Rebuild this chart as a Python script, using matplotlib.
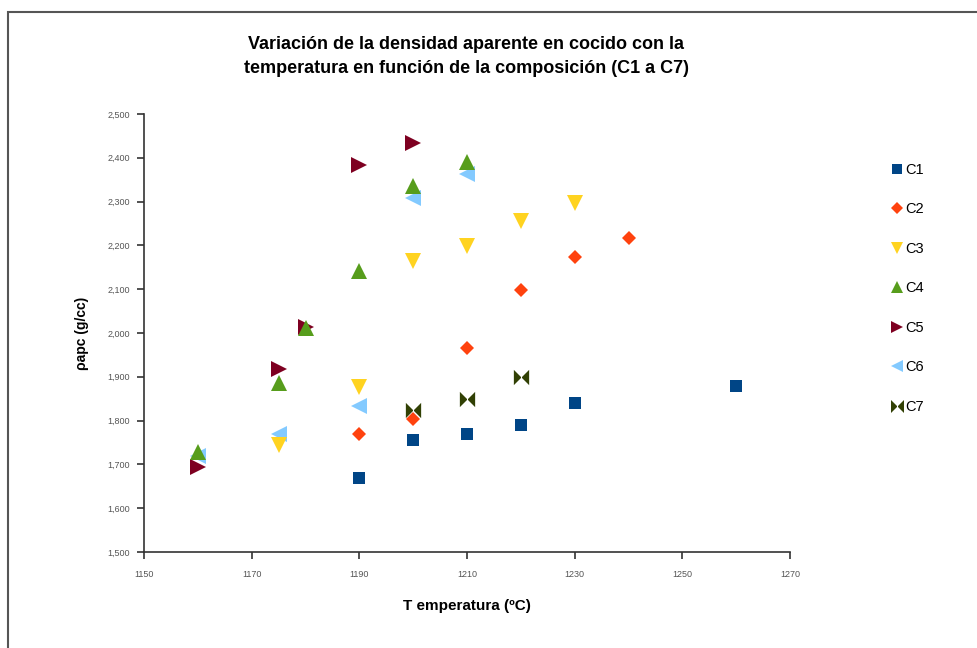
import matplotlib.pyplot as plt
from matplotlib.path import Path
from matplotlib.patches import Rectangle
from matplotlib.ticker import FuncFormatter

# temperatura de cocción (ºC) y densidad aparente en cocido (g/cc) por composición
temp_c1 = [1190, 1200, 1210, 1220, 1230, 1260]
dens_c1 = [1669, 1756, 1769, 1790, 1840, 1879]

temp_c2 = [1190, 1200, 1210, 1220, 1230, 1240]
dens_c2 = [1769, 1804, 1966, 2098, 2173, 2217]

temp_c3 = [1175, 1190, 1200, 1210, 1220, 1230]
dens_c3 = [1744, 1877, 2164, 2199, 2256, 2297]

temp_c4 = [1160, 1175, 1180, 1190, 1200, 1210]
dens_c4 = [1728, 1886, 2011, 2142, 2336, 2390]

temp_c5 = [1160, 1175, 1180, 1190, 1200]
dens_c5 = [1694, 1918, 2014, 2384, 2434]

temp_c6 = [1160, 1175, 1190, 1200, 1210]
dens_c6 = [1719, 1769, 1833, 2308, 2363]

temp_c7 = [1200, 1210, 1220]
dens_c7 = [1824, 1849, 1900]

# marcador "pajarita" para C7
bowtie = Path([(-1, -1), (0, 0), (-1, 1), (-1, -1), (1, -1), (0, 0), (1, 1), (1, -1)],
              [Path.MOVETO, Path.LINETO, Path.LINETO, Path.CLOSEPOLY,
               Path.MOVETO, Path.LINETO, Path.LINETO, Path.CLOSEPOLY])

series = [
    ('C1', temp_c1, dens_c1, 's', '#004586', 8.5),
    ('C2', temp_c2, dens_c2, 'D', '#ff420e', 7.5),
    ('C3', temp_c3, dens_c3, 'v', '#ffd320', 11),
    ('C4', temp_c4, dens_c4, '^', '#579d1c', 11),
    ('C5', temp_c5, dens_c5, '>', '#7e0021', 11),
    ('C6', temp_c6, dens_c6, '<', '#83caff', 11),
    ('C7', temp_c7, dens_c7, bowtie, '#314004', 11),
]

plt.rcParams['font.family'] = ['Liberation Sans', 'DejaVu Sans']

fig = plt.figure(figsize=(9.77, 6.48), dpi=100)
ax = fig.add_axes([0.1474, 0.1481, 0.6612, 0.6760])

# la primera serie queda encima
for i, (name, xs, ys, mk, col, ms) in enumerate(series):
    ax.plot(xs, ys, linestyle='none', marker=mk, color=col, markersize=ms,
            markeredgewidth=0, label=name, zorder=10 - i)

ax.set_xlim(1150, 1270)
ax.set_ylim(1500, 2500)
ax.set_xticks(range(1150, 1271, 20))
ax.set_yticks(range(1500, 2501, 100))
ax.yaxis.set_major_formatter(FuncFormatter(lambda v, p: f'{int(v):,}'))

for side in ['top', 'right']:
    ax.spines[side].set_visible(False)
for side in ['left', 'bottom']:
    ax.spines[side].set_color('#333333')
    ax.spines[side].set_linewidth(1.2)
ax.tick_params(axis='both', colors='#333333', labelcolor='#555555', labelsize=6.5,
               length=5, width=1.2)
ax.tick_params(axis='y', pad=5)
ax.tick_params(axis='x', pad=8)

ax.set_xlabel('T emperatura (ºC)', fontsize=11, fontweight='bold', labelpad=14)
ax.set_ylabel('ρapc (g/cc)', fontsize=10, fontweight='bold', labelpad=13)

fig.text(0.477, 0.913, 'Variación de la densidad aparente en cocido con la\n'
         'temperatura en función de la composición (C1 a C7)',
         ha='center', va='center', fontsize=13, fontweight='bold', linespacing=1.5)

leg = fig.legend(loc='upper left', bbox_to_anchor=(0.897, 0.769), frameon=False,
                 fontsize=10.5, labelspacing=1.75, handletextpad=0.1,
                 handlelength=1.0, markerscale=0.85)

# marco exterior del gráfico
fig.patches.append(Rectangle((8 / 977, -0.05), 1.0, (648 - 12) / 648 + 0.05,
                             transform=fig.transFigure, fill=False,
                             edgecolor='#555555', linewidth=1.5))

fig.savefig('out.png', dpi=100)
